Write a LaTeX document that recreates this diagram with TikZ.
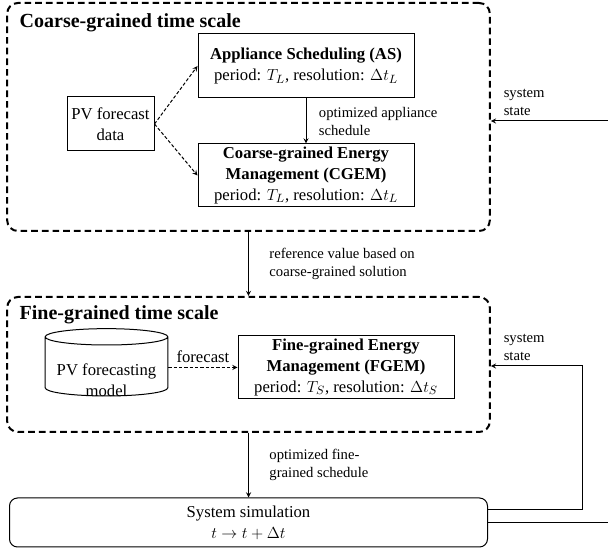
\documentclass[tikz,border=0pt]{standalone}
\usepackage{fontspec}
\setmainfont{Liberation Serif}
\usepackage{tikz}
\usetikzlibrary{shapes.geometric, arrows, calc}
\tikzstyle{box} = [rectangle, draw=black, line width=0.75pt, align=center, inner sep=2pt, font=\fontsize{12.5}{15.5}\selectfont]
\tikzstyle{scalebox} = [rectangle, rounded corners=8pt, draw=black, line width=1.5pt, dash pattern=on 5pt off 3pt]
\tikzstyle{scaletitle} = [font=\fontsize{15}{18}\selectfont\bfseries]
\tikzstyle{arrow} = [line width=0.75pt,->,>=stealth]
\tikzstyle{dasharrow} = [arrow, dash pattern=on 2.5pt off 1.5pt]
\tikzstyle{lbl} = [align=left, font=\fontsize{11}{13.5}\selectfont]

\begin{document}
\begin{tikzpicture}[x=0.75pt, y=-0.75pt]
  \useasboundingbox (0,0) rectangle (608,552);

  % coarse-grained part
  \node (1) [scalebox, minimum width=362pt, minimum height=171pt] at (248.5,117) {};
  \node (2) [scaletitle, anchor=west] at (15,23) {Coarse-grained time scale};
  \node (3) [box, minimum width=162pt, minimum height=48pt] at (306,66) {\textbf{Appliance Scheduling (AS)}\\period: $T_L$, resolution: $\Delta t_L$};
  \node (4) [box, minimum width=65.25pt, minimum height=40.5pt] at (110.5,124) {PV forecast\\data};
  \node (5) [box, minimum width=162pt, minimum height=47.25pt] at (306,175.5) {\textbf{Coarse-grained Energy}\\\textbf{Management (CGEM)}\\period: $T_L$, resolution: $\Delta t_L$};

  % fine-grained part
  \node (6) [scalebox, minimum width=362pt, minimum height=101.25pt] at (248.5,364.5) {};
  \node (7) [scaletitle, anchor=west] at (15,315) {Fine-grained time scale};
  \node (8) [cylinder, shape border rotate=90, aspect=0.16, draw=black, line width=0.75pt, font=\fontsize{12.5}{15.5}\selectfont, inner sep=1pt, minimum width=92pt, minimum height=47pt] at (106.5,367.5) {\raisebox{-11pt}[\height][\depth]{\begin{tabular}{@{}c@{}}PV forecasting\\model\end{tabular}}};
  \node (9) [box, minimum width=162pt, minimum height=47.25pt] at (346,367.5) {\textbf{Fine-grained Energy}\\\textbf{Management (FGEM)}\\period: $T_S$, resolution: $\Delta t_S$};

  \node (10) [box, rounded corners=6pt, minimum width=358.5pt, minimum height=36.75pt] at (248.5,522.5) {System simulation\\$t \rightarrow t + \Delta t$};

  \coordinate (11) at (582,366);
  \coordinate (12) at (608,121);
  \coordinate (13) at (608,522.5);

  \draw [dasharrow] (4.east) -- (3.west);
  \draw [dasharrow] (4.east) -- (5.west);
  \draw [arrow] (3) -- node[lbl, right, xshift=6pt] {optimized appliance\\schedule} (5);
  \draw [arrow] (12) -- (1.east |- 12) node[lbl, above right, xshift=6pt] {system\\state};
  \draw [arrow] (1.south) -- node[lbl, right, xshift=12pt] {reference value based on\\coarse-grained solution} (6.north);
  \draw [dasharrow] (8.east |- 9.west) -- node[above, font=\fontsize{12.5}{15.5}\selectfont] {forecast} (9.west);
  \draw [arrow] (6.south) -- node[lbl, right, xshift=12pt] {optimized fine-\\grained schedule} (10.north);
  \draw [arrow] ($(10.east)+(0,-13)$) -| (11) -- (6.east |- 11) node[lbl, above right, xshift=6pt] {system\\state};
  \draw [line width=0.75pt] (10.east) -- (13);
\end{tikzpicture}
\end{document}
